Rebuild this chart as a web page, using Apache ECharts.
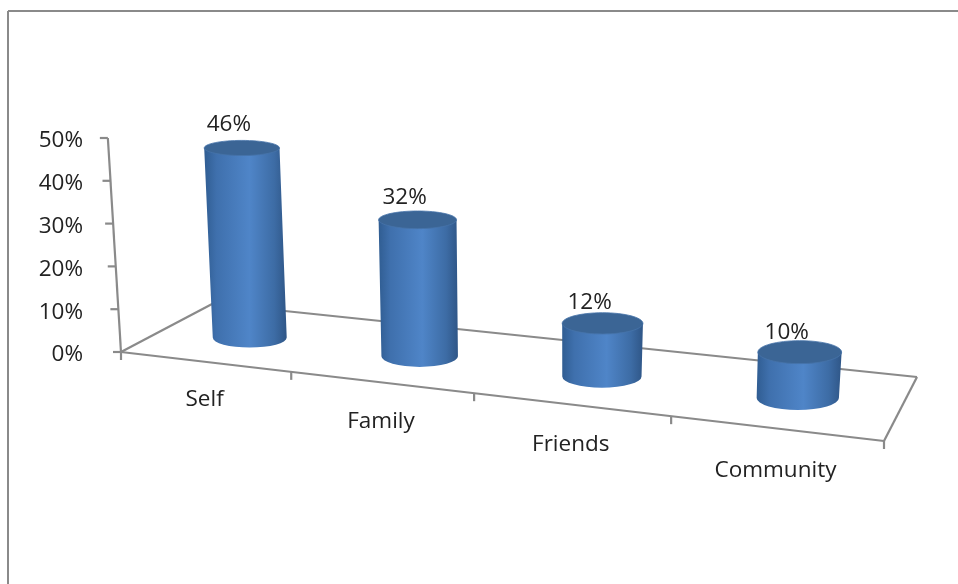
<!DOCTYPE html>
<html>
<head>
<meta charset="utf-8">
<style>html,body{margin:0;padding:0;background:#fff}#chart{width:958px;height:584px}</style>
<script src="https://cdn.jsdelivr.net/npm/echarts@6/dist/echarts.min.js"></script>
</head>
<body>
<div id="chart"></div>
<script>
const categories = ['Self', 'Family', 'Friends', 'Community'];
const shares = [0.46, 0.32, 0.12, 0.10];
const axisTicks = [0, 0.1, 0.2, 0.3, 0.4, 0.5];

const FONT = '"Open Sans", Lato, sans-serif';
const FONT_SIZE = 22.5;
const INK = '#222222';
const RULE = '#8a8a8a';

// Floor plane of the 3D box, as a projective map of the unit square (u along categories, v into depth).
const corner = { fl: [121, 352], fr: [884, 441], br: [917, 377], bl: [213, 303.5] };
const floor = (function () {
  const [x0, y0] = corner.fl, [x1, y1] = corner.fr, [x2, y2] = corner.br, [x3, y3] = corner.bl;
  const dx1 = x1 - x2, dx2 = x3 - x2, sx = x0 - x1 + x2 - x3;
  const dy1 = y1 - y2, dy2 = y3 - y2, sy = y0 - y1 + y2 - y3;
  const den = dx1 * dy2 - dx2 * dy1;
  const g = (sx * dy2 - dx2 * sy) / den, h = (dx1 * sy - sx * dy1) / den;
  return (u, v) => {
    const w = 1 + g * u + h * v;
    return {
      x: ((x1 - x0 + g * x1) * u + (x3 - x0 + h * x3) * v + x0) / w,
      y: ((y1 - y0 + g * y1) * u + (y3 - y0 + h * y3) * v + y0) / w,
      w
    };
  };
})();

// Verticals converge slightly, so a column leans according to where it stands.
const lean = (x, rise) => x + rise * (x - 520) / 6500;
const ellipseRatio = y => 0.2 + (y - 146) * 0.00036;

function toUnit(api, params, category) {
  const rect = params.coordSys;
  return (api.coord([category, 0])[0] - rect.x) / rect.width;
}

function pixelRise(api, value) {
  return api.coord([0, 0])[1] - api.coord([0, value])[1];
}

function renderFrame(params, api) {
  const line = (a, b) => ({
    type: 'line',
    shape: { x1: a[0], y1: a[1], x2: b[0], y2: b[1] },
    style: { stroke: RULE, lineWidth: 2.2 }
  });
  const pt = (u, v) => { const p = floor(u, v); return [p.x, p.y]; };
  const children = [
    line(pt(0, 0), pt(1, 0)),
    line(pt(1, 0), pt(1, 1)),
    line(pt(1, 1), pt(0, 1)),
    line(pt(0, 1), pt(0, 0))
  ];
  // Tilted value axis with its ticks
  const base = floor(0, 0);
  const riseAt = pixelRise(api, 0.5);
  children.push(line([base.x, base.y], [lean(base.x, riseAt), base.y - riseAt]));
  axisTicks.forEach(t => {
    const r = pixelRise(api, t);
    const x = lean(base.x, r), y = base.y - r;
    children.push(line([x - 8, y], [x, y]));
  });
  // Category boundary ticks along the front edge
  for (let i = 0; i <= categories.length; i++) {
    const p = floor(i / categories.length, 0);
    children.push(line([p.x, p.y], [p.x, p.y + 8]));
  }
  // Category names follow the front edge
  categories.forEach((name, i) => {
    const u = toUnit(api, params, i);
    const p = floor(u, 0);
    children.push({
      type: 'text',
      style: {
        text: name, x: p.x, y: p.y + 37 / p.w,
        align: 'center', verticalAlign: 'middle',
        fontFamily: FONT, fontSize: FONT_SIZE, fill: INK
      }
    });
  });
  return { type: 'group', children };
}

function renderCylinder(params, api) {
  const category = api.value(0), value = api.value(1);
  const u = toUnit(api, params, category);
  const seat = floor(u, 0.5);
  const baseX = seat.x, baseY = seat.y + 2;
  const rise = pixelRise(api, value) * 0.99 / seat.w;
  const topX = lean(baseX, rise), topY = baseY - rise;
  const rxBase = 38 / seat.w, rxTop = 38.7 / seat.w;
  const ryBase = rxBase * ellipseRatio(baseY), ryTop = rxTop * ellipseRatio(topY);
  const body = [
    'M', topX - rxTop, topY,
    'L', baseX - rxBase, baseY,
    'A', rxBase, ryBase, 0, 0, 0, baseX + rxBase, baseY,
    'L', topX + rxTop, topY,
    'Z'
  ].join(' ');
  return {
    type: 'group',
    children: [
      {
        type: 'path',
        shape: { pathData: body },
        style: {
          fill: new echarts.graphic.LinearGradient(0, 0, 1, 0, [
            { offset: 0, color: '#305d92' },
            { offset: 0.15, color: '#3f70ad' },
            { offset: 0.55, color: '#4f85c8' },
            { offset: 0.85, color: '#3d6ca5' },
            { offset: 1, color: '#2f5687' }
          ])
        }
      },
      {
        type: 'ellipse',
        shape: { cx: topX, cy: topY, rx: rxTop, ry: ryTop },
        style: { fill: '#3b6595', stroke: '#4674aa', lineWidth: 0.8 }
      },
      {
        type: 'text',
        style: {
          text: Math.round(value * 100) + '%',
          x: topX - 13, y: topY - 29.5 + ryTop * 0.85,
          align: 'center', verticalAlign: 'middle',
          fontFamily: FONT, fontSize: FONT_SIZE, fill: INK
        }
      }
    ]
  };
}

const chart = echarts.init(document.getElementById('chart'), null, { renderer: 'canvas' });
chart.setOption({
  animation: false,
  backgroundColor: '#ffffff',
  graphic: [
    { type: 'line', silent: true, shape: { x1: 8, y1: 11, x2: 958, y2: 11 }, style: { stroke: RULE, lineWidth: 2 } },
    { type: 'line', silent: true, shape: { x1: 8, y1: 11, x2: 8, y2: 584 }, style: { stroke: RULE, lineWidth: 2 } }
  ],
  grid: { left: 121, top: 141, width: 763, height: 214, containLabel: false },
  xAxis: { type: 'category', data: categories, show: false },
  yAxis: {
    type: 'value', min: 0, max: 0.5, interval: 0.1,
    axisLine: { show: false }, axisTick: { show: false }, splitLine: { show: false },
    axisLabel: {
      margin: 38, fontFamily: FONT, fontSize: FONT_SIZE, color: INK,
      formatter: v => Math.round(v * 100) + '%'
    }
  },
  series: [
    {
      type: 'custom', silent: true, z: 1, clip: false,
      renderItem: renderFrame,
      encode: { x: 0, y: 1 },
      data: [[0, 0]]
    },
    {
      type: 'custom', silent: true, z: 2, clip: false,
      renderItem: renderCylinder,
      encode: { x: 0, y: 1 },
      data: shares.map((s, i) => [i, s])
    }
  ]
});
</script>
</body>
</html>
